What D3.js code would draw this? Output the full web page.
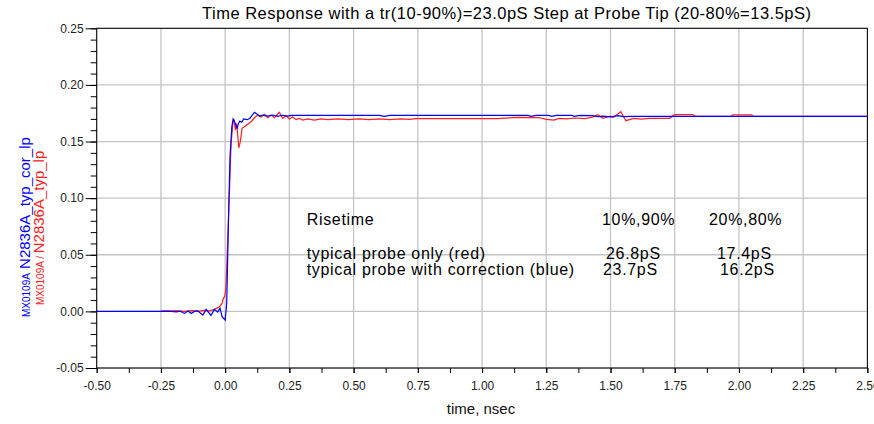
<!DOCTYPE html>
<html><head><meta charset="utf-8">
<script src="https://cdn.jsdelivr.net/npm/d3@7"></script>
<style>
html,body{margin:0;padding:0;background:#fff;}
svg{display:block;font-family:"Liberation Sans",Arial,sans-serif;}
</style></head>
<body><svg id="c" width="874" height="424"></svg>
<script>
// ---- data ----
const xTicks = [-0.5,-0.25,0,0.25,0.5,0.75,1.0,1.25,1.5,1.75,2.0,2.25,2.5];
const xTickLabels = ["-0.50","-0.25","0.00","0.25","0.50","0.75","1.00","1.25","1.50","1.75","2.00","2.25","2.50"];
const yTicks = [-0.05,0,0.05,0.10,0.15,0.20,0.25];
const yTickLabels = ["-0.05","0.00","0.05","0.10","0.15","0.20","0.25"];

// blue: MX0109A N2836A_typ_cor_lp
const blueT = [-0.5,-0.25,-0.22,-0.19,-0.175,-0.158,-0.145,-0.132,-0.12,-0.107,-0.087,-0.074,-0.055,-0.042,-0.029,-0.02,-0.012,0.0,
  0.006,0.010,0.014,0.019,0.026,0.031,0.036,0.041,0.047,0.052,0.057,0.065,0.072,0.086,0.096,0.104,0.114,0.125,0.135,0.146,0.166,0.185,0.205,0.224,0.244,0.257,
  0.60,0.62,0.64,1.18,1.19,1.21,1.26,1.27,1.29,1.35,1.36,1.38,1.43,1.45,1.47,1.50,1.53,1.55,1.58,2.5];
const blueV = [0,0,0.0003,-0.0005,0.0002,-0.0018,0.0003,-0.0018,0.0,0.0005,-0.0032,0.0018,-0.0035,0.0018,-0.0006,0.0027,-0.0047,-0.0077,
  0.007,0.048,0.092,0.137,0.163,0.1699,0.168,0.1646,0.1617,0.166,0.168,0.167,0.1699,0.1693,0.1705,0.1728,0.1758,0.174,0.1723,0.1734,0.1725,0.1734,0.1723,0.1732,0.1725,0.1731,
  0.1731,0.1722,0.1731,0.1731,0.1722,0.1731,0.1731,0.1722,0.1731,0.1731,0.1722,0.1731,0.1728,0.172,0.1725,0.1718,0.1728,0.172,0.1722,0.1722];

// red: MX0109A / N2836A_typ_lp
const redT = [-0.25,-0.22,-0.19,-0.16,-0.13,-0.10,-0.08,-0.06,-0.042,-0.022,-0.012,-0.007,-0.002,0.002,0.004,0.010,0.017,0.023,0.030,0.034,0.040,0.045,0.053,0.059,0.066,0.075,0.088,0.101,0.114,0.127,0.140,0.153,0.166,0.179,0.192,0.211,0.224,0.237,0.250,0.263,0.276,0.289,0.302,0.321,0.347,0.373,
  0.40,0.44,0.48,0.52,0.56,0.60,0.64,0.68,0.72,0.74,1.06,1.14,1.22,1.25,1.28,1.30,1.33,1.36,1.40,1.43,1.45,1.47,1.50,1.51,1.53,1.54,1.56,1.59,1.62,1.65,1.73,1.75,1.82,1.83,1.97,1.975,2.05,2.055,2.5];
const redV = [0.0005,0.0002,0.0006,0.0,0.0006,0.0002,0.0008,0.0004,0.0018,0.0041,0.007,0.0115,0.013,0.0189,0.0277,0.063,0.107,0.148,0.166,0.1699,0.160,0.166,0.1445,0.150,0.1617,0.163,0.1652,0.1675,0.171,0.1734,0.1716,0.174,0.171,0.1734,0.171,0.1758,0.1705,0.1728,0.1699,0.1716,0.1693,0.1705,0.169,0.170,0.169,0.170,
  0.1693,0.1700,0.1693,0.1700,0.1694,0.1700,0.1693,0.1700,0.1695,0.1703,0.1703,0.1714,0.1712,0.1695,0.169,0.1705,0.170,0.1708,0.1703,0.1716,0.1737,0.1705,0.1725,0.1712,0.1745,0.1763,0.1684,0.1705,0.1698,0.1705,0.1705,0.1737,0.1737,0.1722,0.1722,0.1735,0.1735,0.1722,0.1722];

const titleText = "Time Response with a tr(10-90%)=23.0pS Step at Probe Tip (20-80%=13.5pS)";
const xLabelText = "time, nsec";
const tableRows = [
  ["Risetime","10%,90%","20%,80%"],
  ["typical probe only (red)","26.8pS","17.4pS"],
  ["typical probe with correction (blue)","23.7pS","16.2pS"]
];

// ---- drawing ----
const svg = d3.select("#c");
const L = 96.7, R = 867.4, T = 28.3, B = 368;
const x = d3.scaleLinear().domain([-0.5,2.5]).range([L,R]);
const y = d3.scaleLinear().domain([-0.05,0.25]).range([B,T]);

// grid
const g = svg.append("g");
g.selectAll(".gx").data(xTicks).join("line")
  .attr("x1",d=>x(d)).attr("x2",d=>x(d)).attr("y1",T).attr("y2",B)
  .attr("stroke","#c4c4c4").attr("stroke-width",1.3);
g.selectAll(".gy").data(yTicks).join("line")
  .attr("x1",L).attr("x2",R).attr("y1",d=>y(d)).attr("y2",d=>y(d))
  .attr("stroke","#c4c4c4").attr("stroke-width",1.3);

// axes
const xMinor = d3.range(-0.5,2.5001,0.125);
const yMinor = d3.range(-0.05,0.2501,0.01);
const xAxis = d3.axisBottom(x).tickValues(xMinor).tickSize(5).tickFormat("");
svg.append("g").attr("transform",`translate(0,${B})`).call(xAxis)
  .call(s=>s.select(".domain").remove())
  .call(s=>s.selectAll("line").attr("stroke","#000"));
const yAxisMinor = d3.axisLeft(y).tickValues(yMinor).tickSize(6).tickFormat("");
svg.append("g").attr("transform",`translate(${L},0)`).call(yAxisMinor)
  .call(s=>s.select(".domain").remove())
  .call(s=>s.selectAll("line").attr("stroke","#000"));
const yAxis = d3.axisLeft(y).tickValues(yTicks).tickSize(11).tickPadding(2)
  .tickFormat((d,i)=>yTickLabels[i]);
svg.append("g").attr("transform",`translate(${L},0)`).call(yAxis)
  .call(s=>s.select(".domain").remove())
  .call(s=>s.selectAll("line").attr("stroke","#000"))
  .call(s=>s.selectAll("text").attr("font-size",12).attr("fill","#222")
     .attr("font-family","Liberation Sans, Arial, sans-serif"));
const xAxisLab = d3.axisBottom(x).tickValues(xTicks).tickSize(5).tickPadding(8)
  .tickFormat((d,i)=>xTickLabels[i]);
svg.append("g").attr("transform",`translate(0,${B})`).call(xAxisLab)
  .call(s=>s.select(".domain").remove())
  .call(s=>s.selectAll("line").attr("stroke","#000"))
  .call(s=>s.selectAll("text").attr("font-size",12).attr("fill","#222")
     .attr("font-family","Liberation Sans, Arial, sans-serif"));

// plot border
svg.append("rect").attr("x",L).attr("y",T).attr("width",R-L).attr("height",B-T)
  .attr("fill","none").attr("stroke","#000").attr("stroke-width",1);

// lines
const line = d3.line().x(d=>x(d[0])).y(d=>y(d[1]));
const redData = redT.map((t,i)=>[t,redV[i]]);
const blueData = blueT.map((t,i)=>[t,blueV[i]]);
svg.append("path").datum(redData).attr("d",line).attr("fill","none")
  .attr("stroke","#ff2020").attr("stroke-width",1.2);
svg.append("path").datum(blueData).attr("d",line).attr("fill","none")
  .attr("stroke","#0000ff").attr("stroke-width",1.2);

// title
svg.append("text").attr("x",202).attr("y",19).attr("font-size",16.5).attr("fill","#000")
  .attr("letter-spacing",0.5).text(titleText);
// x label
svg.append("text").attr("x",481).attr("y",414).attr("text-anchor","middle")
  .attr("font-size",15).attr("fill","#111").text(xLabelText);

// y labels (rotated)
const yl1 = svg.append("text").attr("transform","translate(29.5,317) rotate(-90)")
  .attr("fill","#0000ff");
yl1.append("tspan").attr("font-size",10).text("MX0109A");
yl1.append("tspan").attr("font-size",15).text(" N2836A_typ_cor_lp");
const yl2 = svg.append("text").attr("transform","translate(43.5,305) rotate(-90)")
  .attr("fill","#ff2020");
yl2.append("tspan").attr("font-size",10).text("MX0109A / ");
yl2.append("tspan").attr("font-size",15).text("N2836A_typ_lp");

// annotation table
const colX = [306.7, 602, 709];
const colX2 = [306.7, 606, 717];
const colX3 = [306.7, 603, 720];
const rowY = [225, 258.5, 274.5];
const cols = [colX, colX2, colX3];
tableRows.forEach((row,ri)=>{
  row.forEach((txt,ci)=>{
    svg.append("text").attr("x",cols[ri][ci]).attr("y",rowY[ri])
      .attr("font-size",16).attr("letter-spacing",0.68).attr("fill","#000").text(txt);
  });
});
</script></body></html>
